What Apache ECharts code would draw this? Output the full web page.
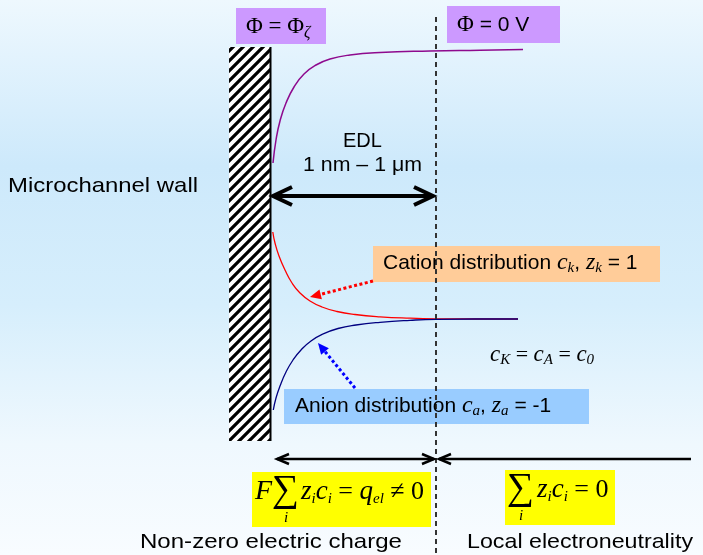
<!DOCTYPE html>
<html><head><meta charset="utf-8">
<script src="https://cdn.jsdelivr.net/npm/echarts@6/dist/echarts.min.js"></script>
<style>html,body{margin:0;padding:0;background:#fff}#c{width:703px;height:555px;}</style>
</head><body><div id="c"></div>
<script>
// ---- data (diagram units: horizontal position, vertical position) ----
const potentialX = [273,276,280,286,294,304,316,330,350,380,430,480,523];
const potentialY = [163,140,121,103,87,74,65,59,55,52.5,51,50.2,49.5];
const cationX = [272.8,275,279,285,292,300,310,322,337,355,380,410,436,475,518];
const cationY = [232,243,256,270,283,293,301,307,311.5,314.5,316.8,318.2,318.8,319,319];
const anionX = [273.3,276,280,286,293,301,311,323,338,356,380,410,436,475,518];
const anionY = [410,398,386,372,360,350,341,334,328.5,325,322.3,320.3,319.3,319,319];

const wallLabel = 'Microchannel wall';
const edlTitle = 'EDL';
const edlRange = '1 nm \u2013 1 \u03bcm';
const leftBottomLabel = 'Non-zero electric charge';
const rightBottomLabel = 'Local electroneutrality';

// ---- helpers ----
const SANS = '"Liberation Sans", Arial, sans-serif';
const SERIF = '"Liberation Serif", "Times New Roman", serif';
const mctx = document.createElement('canvas').getContext('2d');
function measure(font, s){ mctx.font = font; return mctx.measureText(s).width; }
function fitText(s, x, y, size, target){
  const w = measure(size + 'px ' + SANS, s);
  return {type:'text', x:x, y:y, scaleX: target ? target / w : 1, originX:0, originY:0, z:50,
    style:{text:s, fontSize:size, fontFamily:SANS, fill:'#000', align:'left', verticalAlign:'middle'}};
}
function richText(s, x, y, rich, base){
  return {type:'text', x:x, y:y, z:50,
    style:Object.assign({text:s, fill:'#000', align:'left', verticalAlign:'middle', rich:rich}, base)};
}
function rect(x, y, w, h, fill){
  return {type:'rect', shape:{x:x, y:y, width:w, height:h}, style:{fill:fill}, z:10};
}
function line(x1, y1, x2, y2, color, width, dash){
  return {type:'line', shape:{x1:x1, y1:y1, x2:x2, y2:y2}, z:40,
    style:{stroke:color, lineWidth:width, lineDash:dash || null, lineCap:'butt'}};
}
function chevron(x, y, dir, len, half, color, width){
  return {type:'polyline', z:41, shape:{points:[[x + dir*len, y - half],[x, y],[x + dir*len, y + half]]},
    style:{stroke:color, lineWidth:width, fill:null, lineJoin:'miter'}};
}
function dottedArrow(x1, y1, x2, y2, color){
  const dx = x2 - x1, dy = y2 - y1, L = Math.sqrt(dx*dx + dy*dy);
  const ux = dx / L, uy = dy / L, hl = 11, hw = 5;
  const bx = x2 - ux*hl, by = y2 - uy*hl;
  return [
    line(x1, y1, bx, by, color, 3, [3, 2.5]),
    {type:'polygon', z:41, shape:{points:[[x2, y2],[bx - uy*hw, by + ux*hw],[bx + uy*hw, by - ux*hw]]},
      style:{fill:color}}
  ];
}
// hatch pattern for the wall
const pc = document.createElement('canvas');
const P = 10; pc.width = P; pc.height = P;
const pctx = pc.getContext('2d');
pctx.fillStyle = '#fff'; pctx.fillRect(0,0,P,P);
pctx.strokeStyle = '#000'; pctx.lineWidth = 3.2; pctx.lineCap = 'square';
[[-P,0],[0,0],[P,0]].forEach(function(o){
  pctx.beginPath(); pctx.moveTo(o[0], P + o[1]); pctx.lineTo(P + o[0], o[1]); pctx.stroke();
});

function pairs(xs, ys){ return xs.map(function(x, i){ return [x, ys[i]]; }); }

const subR = {fontFamily:SERIF, fontStyle:'italic', fontSize:15, lineHeight:15, verticalAlign:'bottom'};

const graphics = [
  // wall
  {type:'rect', z:5, shape:{x:229, y:47, width:41, height:394}, style:{fill:{image:pc, repeat:'repeat'}}},
  line(270.5, 47, 270.5, 441, '#000', 2),
  // dashed EDL border
  line(436, 17, 436, 555, '#333', 2, [5, 4]),
  // phi boxes
  rect(236, 8, 90, 36, '#cc99ff'),
  rect(447, 6, 113, 37, '#cc99ff'),
  richText('{p|\u03a6 = \u03a6}{s|\u03b6}', 246, 27, {
    p:{fontFamily:SERIF, fontSize:23, lineHeight:27},
    s:Object.assign({}, subR, {fontSize:16, lineHeight:16})
  }, {fontFamily:SERIF, fontSize:23}),
  richText('{p|\u03a6}{n| = 0 V}', 457, 25, {
    p:{fontFamily:SERIF, fontSize:23, lineHeight:26},
    n:{fontFamily:SANS, fontSize:21, lineHeight:26}
  }, {fontFamily:SANS, fontSize:21}),
  // labels
  fitText(wallLabel, 8, 186, 21, 190),
  fitText(edlTitle, 343, 141, 20, 0),
  fitText(edlRange, 303, 165, 20, 119),
  // EDL arrow
  line(273, 196, 433, 196, '#000', 4),
  chevron(273, 196, 1, 19, 9, '#000', 4),
  chevron(433, 196, -1, 19, 9, '#000', 4),
  // cation box
  rect(373, 246, 287, 36, '#ffcc99'),
  richText('{n|Cation distribution }{i|c}{s|k}{n|, }{i|z}{s|k}{n| = 1}', 383, 263, {
    n:{fontFamily:SANS, fontSize:21, lineHeight:25},
    i:{fontFamily:SERIF, fontStyle:'italic', fontSize:24, lineHeight:25},
    s:subR
  }, {fontFamily:SANS, fontSize:21}),
  // anion box
  rect(284, 389, 305, 35, '#99ccff'),
  richText('{n|Anion distribution }{i|c}{s|a}{n|, }{i|z}{s|a}{n| = -1}', 295, 406, {
    n:{fontFamily:SANS, fontSize:21, lineHeight:25},
    i:{fontFamily:SERIF, fontStyle:'italic', fontSize:24, lineHeight:25},
    s:subR
  }, {fontFamily:SANS, fontSize:21}),
  // bulk concentration
  richText('{i|c}{s|K}{n| = }{i|c}{s|A}{n| = }{i|c}{s|0}', 490, 355, {
    n:{fontFamily:SERIF, fontSize:22, lineHeight:25},
    i:{fontFamily:SERIF, fontStyle:'italic', fontSize:23, lineHeight:25},
    s:subR
  }, {fontFamily:SERIF, fontSize:22}),
  // bottom arrows
  line(277, 459, 434, 459, '#000', 2.5),
  chevron(277, 459, 1, 12, 5, '#000', 2.5),
  chevron(434, 459, -1, 12, 5, '#000', 2.5),
  line(439, 459, 691, 459, '#000', 2.5),
  chevron(439, 459, 1, 12, 5, '#000', 2.5),
  // yellow formula boxes
  rect(252, 472, 179, 55, '#ffff00'),
  rect(505, 470, 110, 55, '#ffff00'),
  richText('{i|F}', 255, 492, {i:{fontFamily:SERIF, fontStyle:'italic', fontSize:28, lineHeight:30}}, {fontFamily:SERIF, fontSize:28}),
  richText('{n|\u2211}', 272, 491, {n:{fontFamily:SERIF, fontSize:38, lineHeight:40}}, {fontFamily:SERIF, fontSize:38}),
  richText('{i|i}', 284, 518, {i:{fontFamily:SERIF, fontStyle:'italic', fontSize:15, lineHeight:16}}, {fontFamily:SERIF, fontSize:15}),
  richText('{i|z}{s|i}{i|c}{s|i}{n| = }{i|q}{s|el}{n| \u2260 0}', 301, 492, {
    n:{fontFamily:SERIF, fontSize:26, lineHeight:30},
    i:{fontFamily:SERIF, fontStyle:'italic', fontSize:27, lineHeight:30},
    s:Object.assign({}, subR, {fontSize:15, lineHeight:15})
  }, {fontFamily:SERIF, fontSize:26}),
  richText('{n|\u2211}', 507, 489, {n:{fontFamily:SERIF, fontSize:38, lineHeight:40}}, {fontFamily:SERIF, fontSize:38}),
  richText('{i|i}', 519, 516, {i:{fontFamily:SERIF, fontStyle:'italic', fontSize:15, lineHeight:16}}, {fontFamily:SERIF, fontSize:15}),
  richText('{i|z}{s|i}{i|c}{s|i}{n| = 0}', 537, 490, {
    n:{fontFamily:SERIF, fontSize:26, lineHeight:30},
    i:{fontFamily:SERIF, fontStyle:'italic', fontSize:27, lineHeight:30},
    s:Object.assign({}, subR, {fontSize:15, lineHeight:15})
  }, {fontFamily:SERIF, fontSize:26}),
  // bottom labels
  fitText(leftBottomLabel, 140, 542, 21, 262),
  fitText(rightBottomLabel, 467, 542, 21, 226)
].concat(dottedArrow(373, 281, 310, 297, '#ff0000'))
 .concat(dottedArrow(355, 388, 318, 343, '#0000ff'));

const chart = echarts.init(document.getElementById('c'), null, {renderer:'canvas'});
chart.setOption({
  animation:false,
  backgroundColor:{type:'linear', x:0, y:0, x2:0, y2:1, colorStops:[
    {offset:0, color:'#eef8fe'}, {offset:0.3, color:'#cde9fb'}, {offset:0.55, color:'#d6eefc'},
    {offset:0.8, color:'#eff8fe'}, {offset:1, color:'#f8fcff'}]},
  grid:{left:0, right:0, top:0, bottom:0},
  xAxis:{type:'value', min:0, max:703, show:false},
  yAxis:{type:'value', min:0, max:555, inverse:true, show:false},
  series:[
    {type:'line', name:'Potential', data:pairs(potentialX, potentialY), showSymbol:false, smooth:0.5,
      lineStyle:{color:'#8e0a8e', width:1.5}, z:20},
    {type:'line', name:'Cation', data:pairs(cationX, cationY), showSymbol:false, smooth:0.5,
      lineStyle:{color:'#ff0000', width:1.3}, z:20},
    {type:'line', name:'Anion', data:pairs(anionX, anionY), showSymbol:false, smooth:0.5,
      lineStyle:{color:'#000080', width:1.3}, z:21}
  ],
  graphic:{elements:graphics}
});
</script>
</body></html>
